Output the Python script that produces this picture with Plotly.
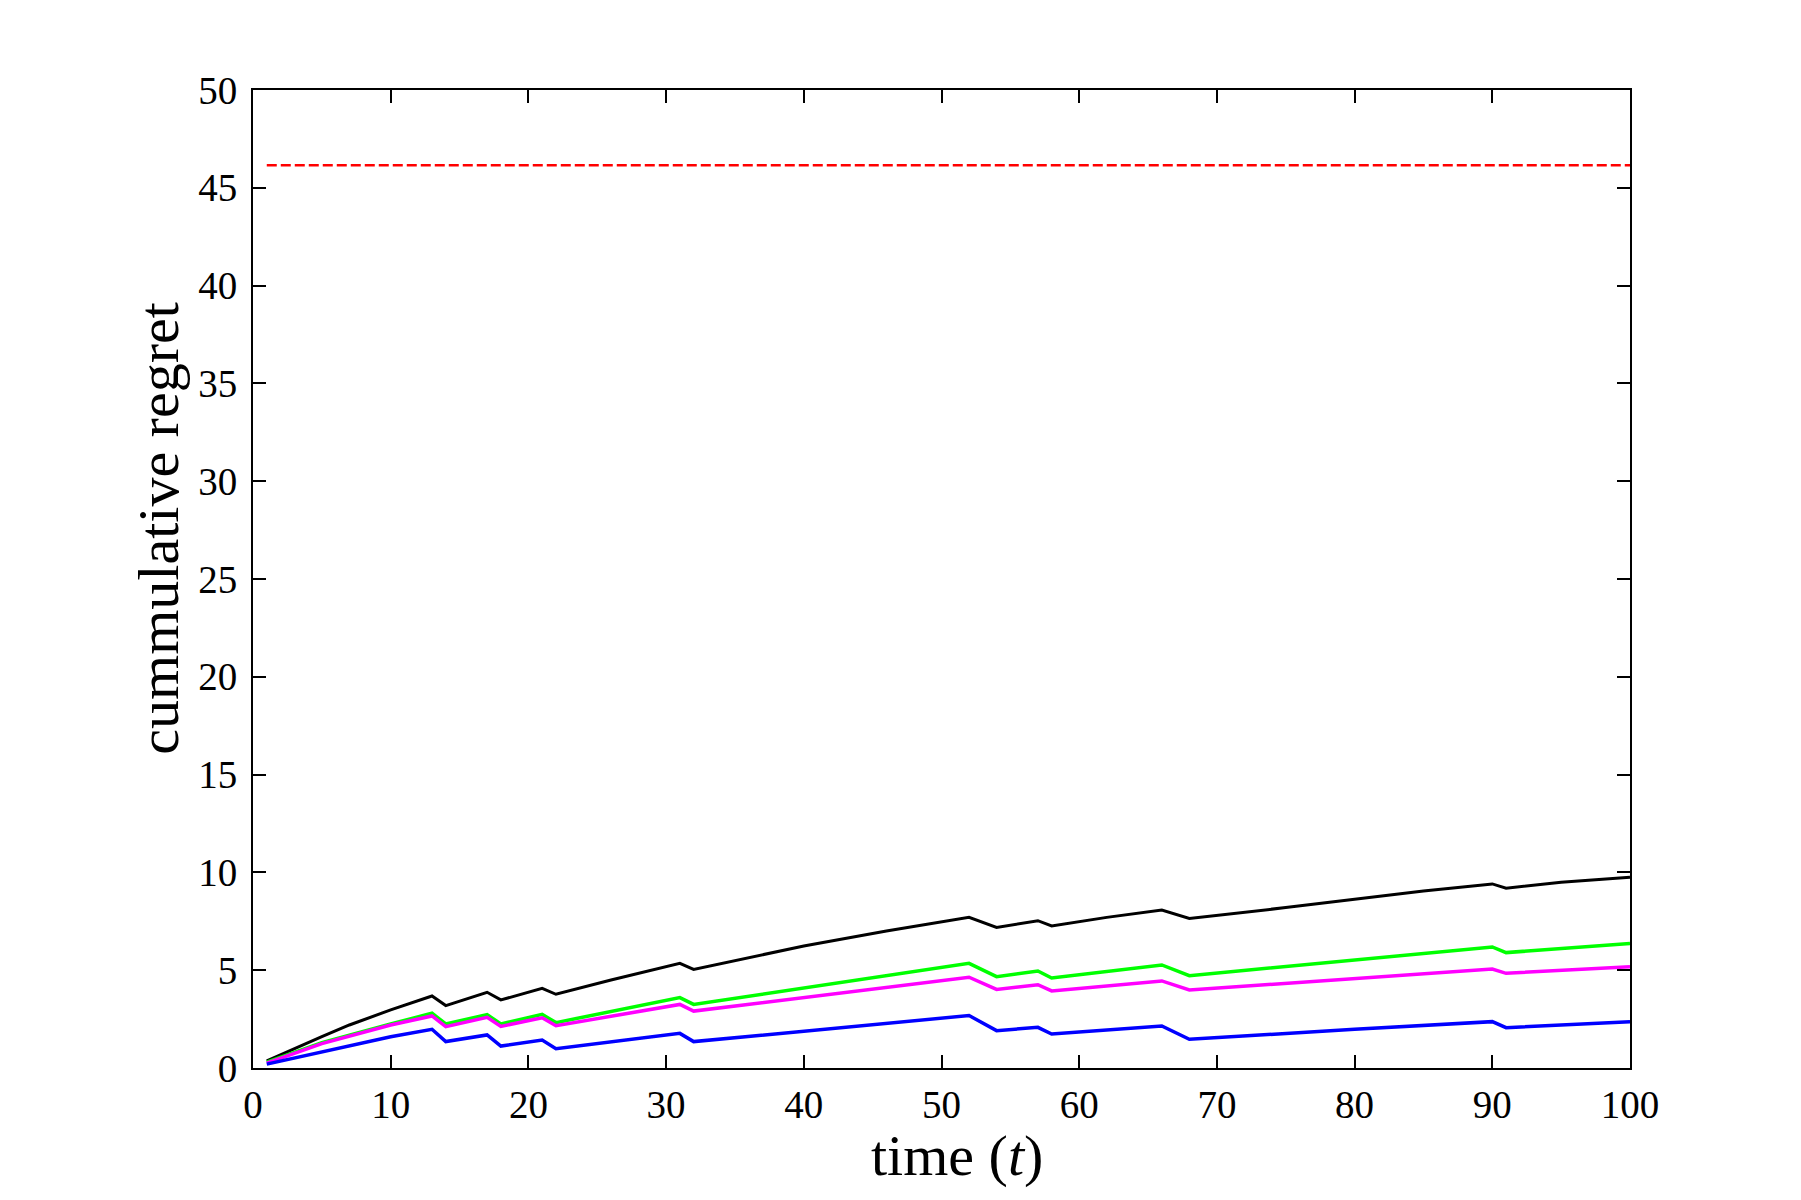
import plotly.graph_objects as go

# --- data ---
t_black = [1, 3, 5, 7, 10, 13, 14, 17, 18, 21, 22, 26, 31, 32, 40, 46, 52, 54, 57, 58, 62, 66, 68, 75, 80, 85, 90, 91, 95, 100]
y_black = [0.37, 1.0, 1.6, 2.2, 2.97, 3.68, 3.19, 3.87, 3.48, 4.07, 3.77, 4.5, 5.35, 5.04, 6.24, 7.0, 7.7, 7.19, 7.53, 7.26, 7.7, 8.08, 7.65, 8.2, 8.64, 9.05, 9.41, 9.19, 9.5, 9.75]

t_green = [1, 5, 10, 13, 14, 17, 18, 21, 22, 31, 32, 40, 52, 54, 57, 58, 66, 68, 80, 90, 91, 100]
y_green = [0.3, 1.3, 2.25, 2.8, 2.25, 2.73, 2.25, 2.74, 2.32, 3.6, 3.25, 4.1, 5.35, 4.67, 4.96, 4.6, 5.27, 4.72, 5.52, 6.19, 5.9, 6.37]

t_magenta = [1, 5, 10, 13, 14, 17, 18, 21, 22, 31, 32, 52, 54, 57, 58, 66, 68, 80, 90, 91, 100]
y_magenta = [0.25, 1.25, 2.2, 2.66, 2.11, 2.59, 2.13, 2.57, 2.16, 3.25, 2.91, 4.64, 4.02, 4.26, 3.94, 4.45, 3.99, 4.57, 5.06, 4.84, 5.18]

t_blue = [1, 10, 13, 14, 17, 18, 21, 22, 31, 32, 52, 54, 57, 58, 66, 68, 80, 90, 91, 100]
y_blue = [0.2, 1.6, 1.98, 1.35, 1.69, 1.12, 1.43, 0.99, 1.77, 1.35, 2.68, 1.91, 2.08, 1.74, 2.15, 1.47, 1.98, 2.37, 2.06, 2.37]

t_bound = [1, 100]
y_bound = [46.15, 46.15]

x_ticks = [0, 10, 20, 30, 40, 50, 60, 70, 80, 90, 100]
y_ticks = [0, 5, 10, 15, 20, 25, 30, 35, 40, 45, 50]

x_title = "time (<i>t</i>)"
y_title = "cummulative regret"

FONT = "Liberation Serif"

fig = go.Figure()
fig.add_trace(go.Scatter(x=t_bound, y=y_bound, mode="lines",
                         line=dict(color="#ff0000", width=2.5, dash="10px,4px")))
fig.add_trace(go.Scatter(x=t_black, y=y_black, mode="lines",
                         line=dict(color="#000000", width=3)))
fig.add_trace(go.Scatter(x=t_green, y=y_green, mode="lines",
                         line=dict(color="#00ff00", width=3.5)))
fig.add_trace(go.Scatter(x=t_magenta, y=y_magenta, mode="lines",
                         line=dict(color="#ff00ff", width=3.5)))
fig.add_trace(go.Scatter(x=t_blue, y=y_blue, mode="lines",
                         line=dict(color="#0000ff", width=3.5)))

axis_common = dict(
    showgrid=False, zeroline=False, showline=True, linecolor="black", linewidth=2,
    mirror="ticks", ticks="inside", ticklen=13, tickwidth=2, tickcolor="black",
    tickfont=dict(family=FONT, size=39, color="black"),
)

fig.update_xaxes(range=[0, 100], tickvals=x_ticks, ticklabelstandoff=1, **axis_common)
fig.update_yaxes(range=[0, 50], tickvals=y_ticks, ticklabelstandoff=6, **axis_common)

fig.add_annotation(text=x_title, xref="paper", yref="paper", x=0.511, y=-0.089,
                   xanchor="center", yanchor="middle", showarrow=False,
                   font=dict(family=FONT, size=58, color="black"))
fig.add_annotation(text=y_title, xref="paper", yref="paper", x=-0.0686, y=0.552,
                   xanchor="center", yanchor="middle", showarrow=False, textangle=-90,
                   font=dict(family=FONT, size=58, color="black"))

fig.update_layout(
    width=1801, height=1200,
    margin=dict(l=245, r=179, t=82, b=140),
    paper_bgcolor="white", plot_bgcolor="white",
    showlegend=False,
)

fig.write_html("out.html")
